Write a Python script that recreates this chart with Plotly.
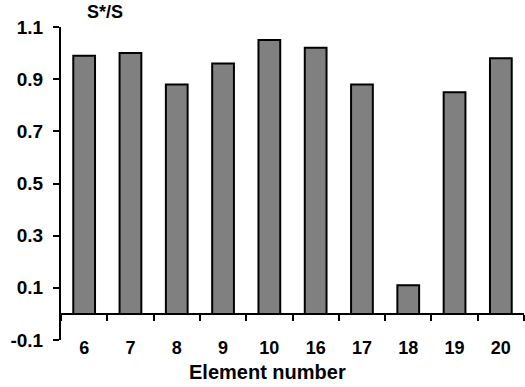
import plotly.graph_objects as go

categories = ["6", "7", "8", "9", "10", "16", "17", "18", "19", "20"]
values = [0.99, 1.00, 0.88, 0.96, 1.05, 1.02, 0.88, 0.11, 0.85, 0.98]
y_ticks = [-0.1, 0.1, 0.3, 0.5, 0.7, 0.9, 1.1]
y_ticktext = ["-0.1", "0.1", "0.3", "0.5", "0.7", "0.9", "1.1"]

FONT = "Liberation Sans, Arial, sans-serif"
W, H = 525, 387
ML, MR, MT, MB = 61, 1, 27, 47
YMIN, YMAX = -0.1, 1.1
PW, PH = W - ML - MR, H - MT - MB


def px_x(x):
    return (x - ML) / PW


def px_y(y):
    return (H - MB - y) / PH


fig = go.Figure()
fig.add_trace(go.Bar(
    x=categories, y=values,
    marker=dict(color="#808080", line=dict(color="black", width=2)),
    width=0.47, xaxis="x", yaxis="y", showlegend=False, hoverinfo="skip",
))
# invisible trace to drive the zero-level axis with boundary ticks
fig.add_trace(go.Scatter(
    x=categories, y=[0] * len(categories), mode="markers",
    marker=dict(opacity=0), xaxis="x2", yaxis="y", showlegend=False, hoverinfo="skip",
))

zero_pos = (0 - YMIN) / (YMAX - YMIN)

fig.update_layout(
    width=W, height=H,
    margin=dict(l=ML, r=MR, t=MT, b=MB),
    plot_bgcolor="white", paper_bgcolor="white",
    hovermode=False,
    xaxis=dict(
        type="category", categoryorder="array", categoryarray=categories,
        range=[-0.5, len(categories) - 0.5],
        anchor="free", position=5 / PH,
        showline=False, showgrid=False, zeroline=False, ticks="",
        tickfont=dict(family=FONT, size=18, color="black", weight="bold"),
        ticklabelstandoff=0,
    ),
    xaxis2=dict(
        type="category", categoryorder="array", categoryarray=categories,
        range=[-0.5, len(categories) - 0.5],
        overlaying="x", anchor="free", position=zero_pos,
        showline=True, linecolor="black", linewidth=2,
        ticks="outside", tickson="boundaries", ticklen=6, tickwidth=2, tickcolor="black",
        showticklabels=False, showgrid=False, zeroline=False,
    ),
    yaxis=dict(
        range=[YMIN, YMAX], tickvals=y_ticks, ticktext=y_ticktext,
        showline=True, linecolor="black", linewidth=2,
        ticks="outside", ticklen=6, tickwidth=2, tickcolor="black",
        showgrid=False, zeroline=False,
        tickfont=dict(family=FONT, size=19, color="black", weight="bold"),
        ticklabelstandoff=6,
    ),
    annotations=[
        dict(text="S*/S", xref="paper", yref="paper",
             x=px_x(105), y=px_y(12),
             xanchor="center", yanchor="middle", showarrow=False,
             font=dict(family=FONT, size=18, color="black", weight="bold")),
        dict(text="Element number", xref="paper", yref="paper",
             x=px_x(267), y=px_y(372),
             xanchor="center", yanchor="middle", showarrow=False,
             font=dict(family=FONT, size=20, color="black", weight="bold")),
    ],
)

fig.write_html("out.html", config={"displayModeBar": False},
               post_script="document.body.style.margin='0';")
